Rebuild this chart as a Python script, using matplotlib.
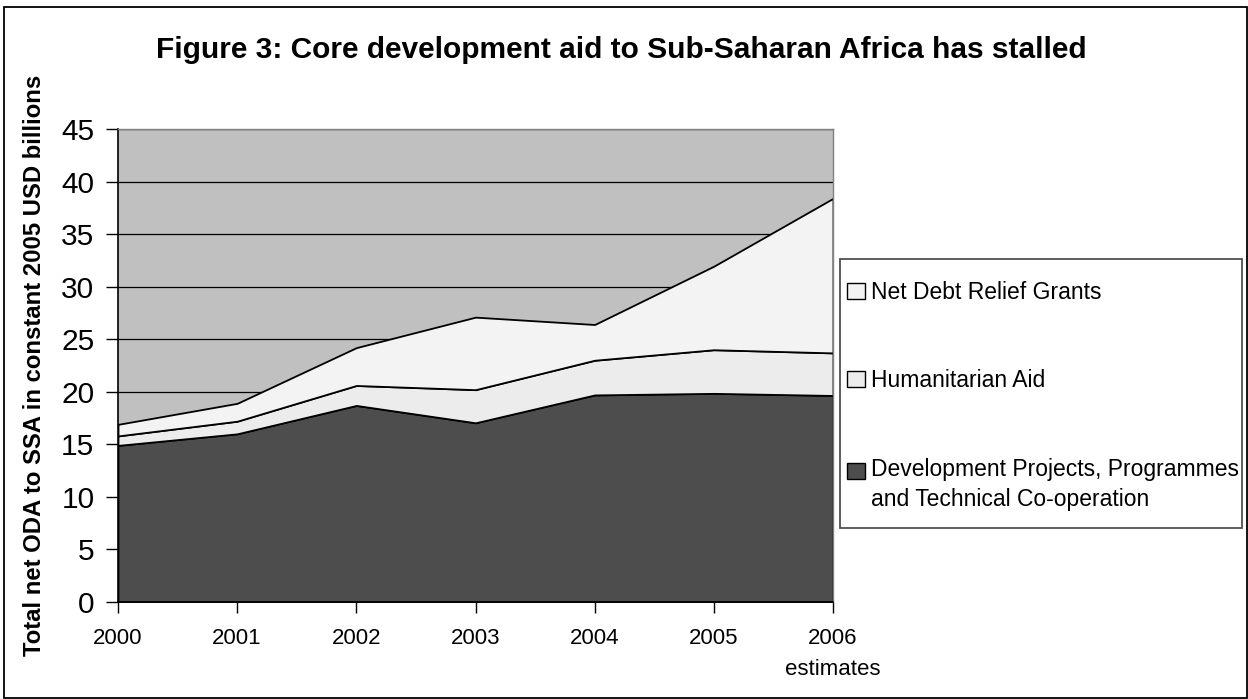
import matplotlib
matplotlib.use("Agg")
import matplotlib.pyplot as plt
from matplotlib.patches import Patch, Rectangle
from matplotlib.legend_handler import HandlerPatch

plt.rcParams['font.family'] = ['Liberation Sans', 'DejaVu Sans']

# data (USD billions, constant 2005)
years = [2000, 2001, 2002, 2003, 2004, 2005, 2006]
year_labels = ['2000', '2001', '2002', '2003', '2004', '2005', '2006\nestimates']
dev_projects = [14.9, 16.0, 18.7, 17.05, 19.7, 19.85, 19.65]
humanitarian = [0.9, 1.2, 1.9, 3.15, 3.3, 4.15, 4.05]
debt_relief = [1.1, 1.7, 3.6, 6.9, 3.4, 7.95, 14.7]

series_names = ['Development Projects, Programmes\nand Technical Co-operation',
                'Humanitarian Aid',
                'Net Debt Relief Grants']
series_colors = ['#4d4d4d', '#ececec', '#f3f3f3']

W, H = 1248, 699
fig = plt.figure(figsize=(W / 100, H / 100), dpi=100)
fig.patch.set_facecolor('white')

# plot area in pixels: x 118..833, y 129..602
ax = fig.add_axes([118 / W, 1 - 602 / H, (833 - 118) / W, (602 - 129) / H])
ax.set_facecolor('#c0c0c0')

ax.stackplot(years, dev_projects, humanitarian, debt_relief,
             colors=series_colors, edgecolor='black', linewidth=1.3)

ax.set_xlim(years[0], years[-1])
ax.set_ylim(0, 45)
ax.set_yticks(range(0, 46, 5))
ax.set_xticks(years, year_labels)
ax.tick_params(axis='y', labelsize=21.5, length=9, width=1, pad=8, direction='out')
ax.tick_params(axis='x', labelsize=16, length=8, width=1, pad=11, direction='out')
for lab in ax.get_xticklabels():
    lab.set_linespacing(1.6)

ax.yaxis.grid(True, color='black', linewidth=0.9)
ax.set_axisbelow(True)

for side in ['left', 'bottom']:
    ax.spines[side].set_color('black')
    ax.spines[side].set_linewidth(1.2)
for side in ['top', 'right']:
    ax.spines[side].set_color('#808080')
    ax.spines[side].set_linewidth(1.0)

ax.set_ylabel('Total net ODA to SSA in constant 2005 USD billions',
              fontsize=17.2, fontweight='bold')
ax.yaxis.set_label_coords((46 - 118) / (833 - 118), (602 - 365) / (602 - 129))

fig.text(621 / W, 1 - 50 / H,
         'Figure 3: Core development aid to Sub-Saharan Africa has stalled',
         fontsize=21.5, fontweight='bold', ha='center', va='center')


# the two-line entry keeps its square next to the first line
def raised_patch(legend, orig_handle, xdescent, ydescent, width, height, fontsize):
    return Rectangle((-xdescent, -ydescent + 0.63 * fontsize), width, height)


# legend, reversed order like the reference
handles = [Patch(facecolor=c, edgecolor='black', linewidth=1.0) for c in series_colors]
leg = fig.legend(handles[::-1], series_names[::-1], loc='upper left',
                 bbox_to_anchor=(847 / W, 1 - 281 / H), frameon=False,
                 fontsize=16.5, borderpad=0, handlelength=0.78, handleheight=0.7,
                 handletextpad=0.25, labelspacing=2.85, borderaxespad=0,
                 handler_map={handles[0]: HandlerPatch(patch_func=raised_patch)})
for t in leg.get_texts():
    t.set_linespacing(1.4)

fig.add_artist(Rectangle((840 / W, 1 - 528 / H), (1242 - 840) / W, (528 - 259) / H,
                         transform=fig.transFigure, fill=False,
                         edgecolor='#505050', linewidth=1.3))

# outer border of the figure
fig.add_artist(Rectangle((4 / W, 1 / H), (1247 - 4) / W, (698 - 7) / H,
                         transform=fig.transFigure, fill=False,
                         edgecolor='black', linewidth=1.3))

fig.savefig('out.png', dpi=100)
